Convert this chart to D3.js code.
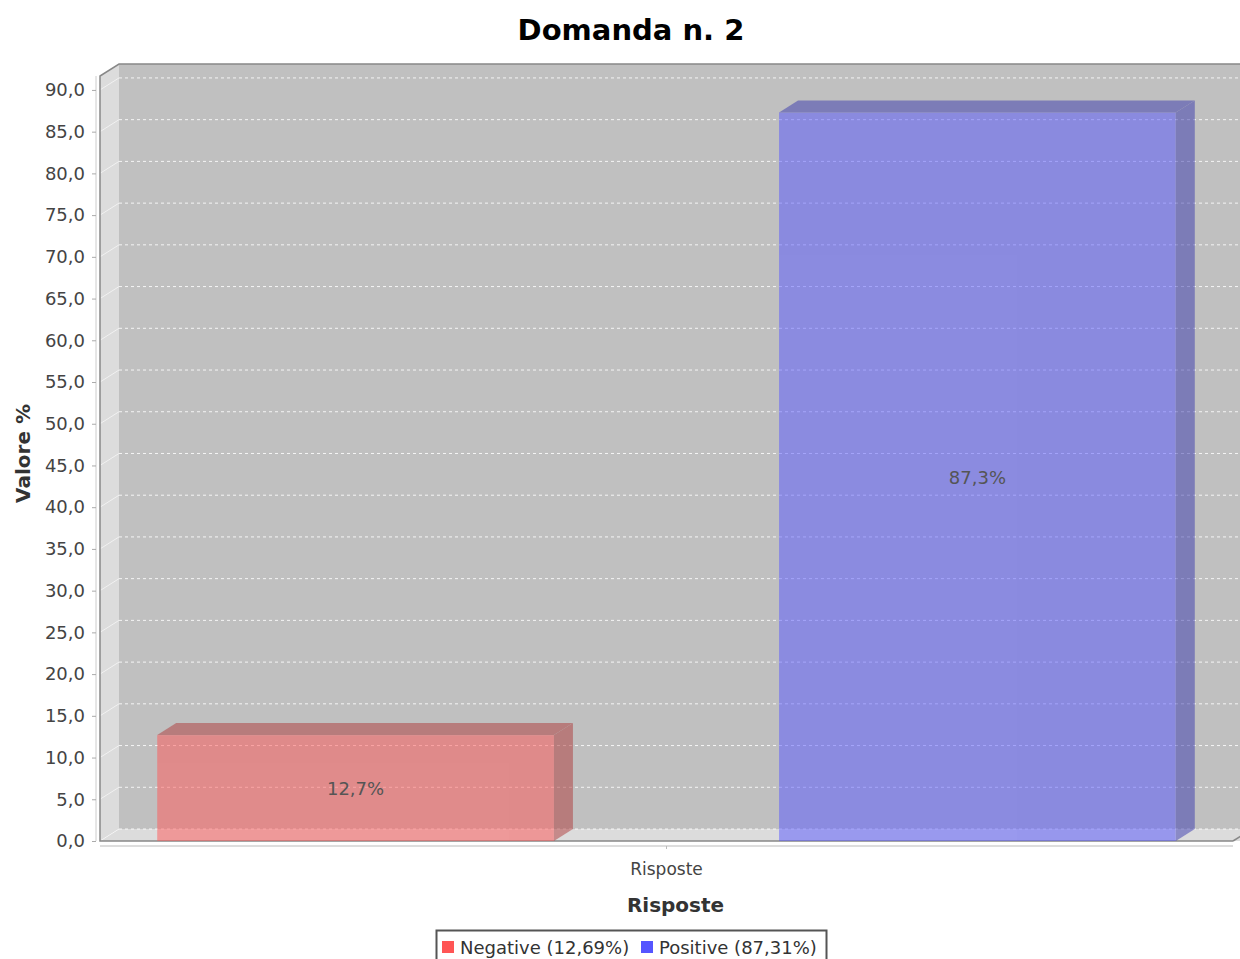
<!DOCTYPE html>
<html>
<head>
<meta charset="utf-8">
<script src="https://cdn.jsdelivr.net/npm/d3@7"></script>
<style>
  body { margin: 0; background: #fff; }
  text { font-family: "DejaVu Sans", sans-serif; }
</style>
</head>
<body>
<svg id="svg" width="1240" height="959"></svg>
<script>
// chart data
var title = "Domanda n. 2";
var categories = ["Risposte"];
var series = ["Negative", "Positive"];
var values = [12.69, 87.31];
var colors = ["#ff5555", "#5555ff"];
var yTicks = [0, 5, 10, 15, 20, 25, 30, 35, 40, 45, 50, 55, 60, 65, 70, 75, 80, 85, 90];
var yMax = 91.67;

var it = d3.formatLocale({decimal: ",", thousands: ".", grouping: [3], currency: ["", "€"]});
var fmt1 = it.format(".1f");
var fmt2 = it.format(".2f");

var svg = d3.select("#svg");

// plot box (front face) and 3d offset
var plot = {left: 100, right: 1233, top: 76, bottom: 841};
var dx = 19, dy = 12;
var cx = 631;   // centre of the original (wider) chart

var y = d3.scaleLinear().domain([0, yMax]).range([plot.bottom, plot.top]);
var xCat = d3.scaleBand().domain(categories).range([plot.left, plot.right]);
var xSer = d3.scaleBand().domain(series)
	.range([xCat(categories[0]), xCat(categories[0]) + xCat.bandwidth()])
	.paddingInner(0.362).paddingOuter(0.092);

// title
svg.append('text')
	.attr('x', cx).attr('y', 40)
	.attr('text-anchor', 'middle')
	.style('font-size', '29px').style('font-weight', 'bold')
	.text(title);

// walls
var backR = plot.right + dx + 30;
svg.append('rect')   // back wall
	.attr('x', plot.left + dx).attr('y', plot.top - dy)
	.attr('width', backR - plot.left - dx).attr('height', plot.bottom - plot.top)
	.style('fill', '#c0c0c0');
svg.append('polygon')   // left wall
	.attr('points', [[plot.left, plot.top], [plot.left + dx, plot.top - dy], [plot.left + dx, plot.bottom - dy], [plot.left, plot.bottom]].join(' '))
	.style('fill', '#dcdcdc');
svg.append('polygon')   // floor
	.attr('points', [[plot.left, plot.bottom], [plot.left + dx, plot.bottom - dy], [backR, plot.bottom - dy], [backR - dx, plot.bottom]].join(' '))
	.style('fill', '#dcdcdc');

// gridlines
var grid = svg.append('g');
grid.selectAll('.gback').data(yTicks).enter().append('line')
	.classed('gback', true)
	.attr('x1', plot.left + dx).attr('x2', backR)
	.attr('y1', d => y(d) - dy).attr('y2', d => y(d) - dy)
	.style('stroke', '#fff').style('stroke-width', 1).style('stroke-dasharray', '3,3')
	.style('opacity', 0.85);
grid.selectAll('.gside').data(yTicks).enter().append('line')
	.classed('gside', true)
	.attr('x1', plot.left).attr('x2', plot.left + dx)
	.attr('y1', d => y(d)).attr('y2', d => y(d) - dy)
	.style('stroke', '#fff').style('stroke-width', 1).style('opacity', 0.6);

// outline
svg.append('path')
	.attr('d', d3.line()([[plot.right, plot.bottom], [plot.left, plot.bottom], [plot.left, plot.top],
		[plot.left + dx, plot.top - dy], [backR, plot.top - dy]]))
	.style('fill', 'none').style('stroke', '#888').style('stroke-width', 1.5);
svg.append('line')
	.attr('x1', plot.right).attr('y1', plot.bottom).attr('x2', plot.right + dx).attr('y2', plot.bottom - dy)
	.style('stroke', '#888').style('stroke-width', 1.5);

// bars
var bars = svg.append('g');
series.forEach(function(s, i) {
	var x0 = xSer(s), w = xSer.bandwidth();
	var yt = y(values[i]), yb = y(0);
	var c = d3.color(colors[i]);
	var dark = c.darker(1.05);
	var g = bars.append('g').style('opacity', 0.5);
	g.append('rect')
		.attr('x', x0).attr('y', yt).attr('width', w).attr('height', yb - yt)
		.style('fill', c);
	g.append('polygon')
		.attr('points', [[x0 + w, yt], [x0 + w + dx, yt - dy], [x0 + w + dx, yb - dy], [x0 + w, yb]].join(' '))
		.style('fill', dark);
	g.append('polygon')
		.attr('points', [[x0, yt], [x0 + dx, yt - dy], [x0 + w + dx, yt - dy], [x0 + w, yt]].join(' '))
		.style('fill', dark);
	bars.append('text')
		.attr('x', x0 + w / 2).attr('y', (yt + yb) / 2 + 7)
		.attr('text-anchor', 'middle')
		.style('font-size', '18px').style('fill', '#555')
		.text(fmt1(values[i]) + '%');
});

// value axis
var yAxis = svg.append('g').attr('transform', 'translate(96,0)')
	.call(d3.axisLeft(y).tickValues(yTicks).tickFormat(fmt1).tickSize(4).tickPadding(7));
yAxis.select('.domain').attr('d', 'M0,' + plot.top + 'V' + plot.bottom).style('stroke', '#ccc');
yAxis.selectAll('.tick line').style('stroke', '#aaa');
yAxis.selectAll('.tick text').style('font-size', '18px').style('fill', '#444')
	.style('font-family', '"DejaVu Sans", sans-serif');

svg.append('text')
	.attr('transform', 'translate(30,' + ((plot.top + plot.bottom) / 2 - 5) + ') rotate(-90)')
	.attr('text-anchor', 'middle')
	.style('font-size', '20px').style('font-weight', 'bold').style('fill', '#333')
	.text('Valore %');

// category axis
var xAxis = svg.append('g').attr('transform', 'translate(0,846)')
	.call(d3.axisBottom(xCat).tickSize(3).tickPadding(14));
xAxis.select('.domain').attr('d', 'M' + plot.left + ',0H' + plot.right).style('stroke', '#ddd').style('stroke-width', 2);
xAxis.selectAll('.tick line').style('stroke', '#bbb');
xAxis.selectAll('.tick text').style('font-size', '17px').style('fill', '#444')
	.style('font-family', '"DejaVu Sans", sans-serif');

svg.append('text')
	.attr('x', (plot.left + plot.right) / 2 + 9).attr('y', 912)
	.attr('text-anchor', 'middle')
	.style('font-size', '20px').style('font-weight', 'bold').style('fill', '#333')
	.text(categories[0]);

// legend
var legend = svg.append('g');
legend.append('rect')
	.attr('x', 436.5).attr('y', 930.5).attr('width', 390).attr('height', 40)
	.style('fill', '#fff').style('stroke', '#555').style('stroke-width', 2);
var lx = [442, 641];
series.forEach(function(s, i) {
	legend.append('rect')
		.attr('x', lx[i]).attr('y', 941).attr('width', 12).attr('height', 12)
		.style('fill', colors[i]);
	legend.append('text')
		.attr('x', lx[i] + 18).attr('y', 954)
		.style('font-size', '18px').style('fill', '#333')
		.text(s + ' (' + fmt2(values[i]) + '%)');
});
</script>
</body>
</html>
